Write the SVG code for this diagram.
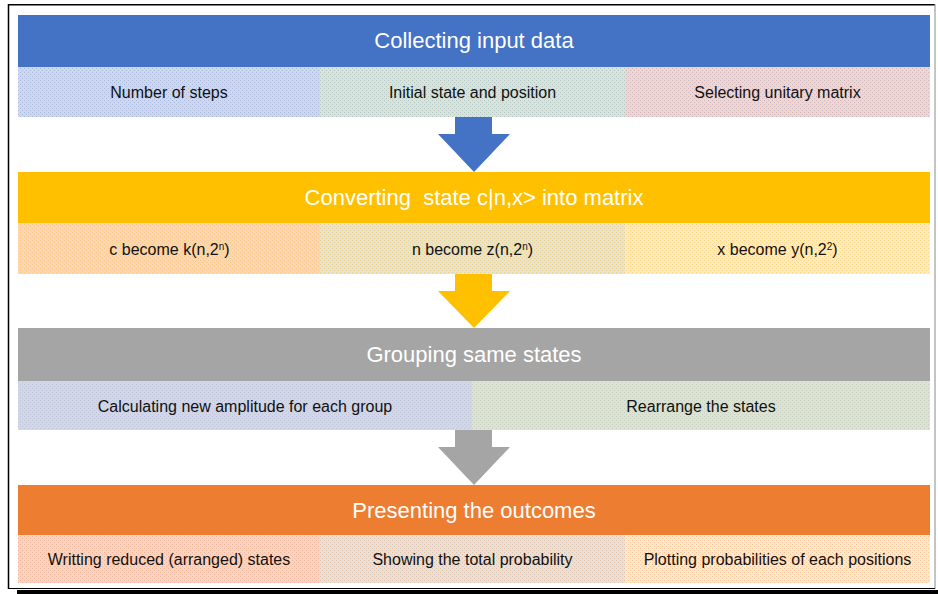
<svg xmlns="http://www.w3.org/2000/svg" width="938" height="594" viewBox="0 0 938 594">
  <defs>
    <style>
      .head-text { font-family: "Liberation Sans", Arial, sans-serif; font-size: 22px; fill: #ffffff; text-anchor: middle; }
      .cell-text { font-family: "Liberation Sans", Arial, sans-serif; font-size: 16px; fill: #111111; text-anchor: middle; }
      .sup { font-size: 10px; }
      .blue { fill: #4472C4; }
      .gold { fill: #FFC000; }
      .grey { fill: #A5A5A5; }
      .orange { fill: #ED7D31; }
      .c-blue { fill: #D0D6EC; }
      .c-green { fill: #DAE4D0; }
      .c-pink { fill: #F8D4C8; }
      .c-grey { fill: #E2E2E0; }
      .c-peach { fill: #FFE8CC; }
    </style>
    <!-- dotted-grid overlays tinted with each stage's colour -->
    <pattern id="dotBlue" patternUnits="userSpaceOnUse" width="4" height="4">
      <rect x="0" y="0" width="1" height="1" fill="#4472C4" opacity="0.28"/>
      <rect x="2" y="2" width="1" height="1" fill="#4472C4" opacity="0.28"/>
    </pattern>
    <pattern id="dotGold" patternUnits="userSpaceOnUse" width="4" height="4">
      <rect x="0" y="0" width="1" height="1" fill="#FFC000" opacity="0.4"/>
      <rect x="2" y="2" width="1" height="1" fill="#FFC000" opacity="0.4"/>
    </pattern>
    <pattern id="dotGrey" patternUnits="userSpaceOnUse" width="4" height="4">
      <rect x="0" y="0" width="1" height="1" fill="#A5A5A5" opacity="0.35"/>
      <rect x="2" y="2" width="1" height="1" fill="#A5A5A5" opacity="0.35"/>
    </pattern>
    <pattern id="dotOrange" patternUnits="userSpaceOnUse" width="4" height="4">
      <rect x="0" y="0" width="1" height="1" fill="#ED7D31" opacity="0.35"/>
      <rect x="2" y="2" width="1" height="1" fill="#ED7D31" opacity="0.35"/>
    </pattern>
  </defs>

  <!-- page background and frame -->
  <rect x="0" y="0" width="938" height="594" fill="#ffffff"/>
  <rect x="17" y="590" width="921" height="4" fill="#000000"/>
  <line x1="8" y1="4.8" x2="935" y2="4.8" stroke="#000000" stroke-width="1.5"/>
  <line x1="8.5" y1="4" x2="8.5" y2="589" stroke="#000000" stroke-width="1.5"/>
  <line x1="935" y1="4" x2="935" y2="589" stroke="#8a8a8a" stroke-width="1"/>
  <line x1="8" y1="588.5" x2="935" y2="588.5" stroke="#000000" stroke-width="1"/>

  <!-- stage 1 -->
  <g id="collecting-input-data">
    <rect class="blue" x="18" y="15" width="912" height="52"/>
    <text class="head-text" x="474" y="48">Collecting input data</text>
  </g>
  <g id="number-of-steps">
    <rect class="c-blue" x="18" y="67" width="302" height="50"/>
    <rect fill="url(#dotBlue)" x="18" y="67" width="302" height="50"/>
    <text class="cell-text" x="169" y="98">Number of steps</text>
  </g>
  <g id="initial-state-position">
    <rect class="c-green" x="320" y="67" width="305" height="50"/>
    <rect fill="url(#dotBlue)" x="320" y="67" width="305" height="50"/>
    <text class="cell-text" x="472.5" y="98">Initial state and position</text>
  </g>
  <g id="selecting-unitary-matrix">
    <rect class="c-pink" x="625" y="67" width="305" height="50"/>
    <rect fill="url(#dotBlue)" x="625" y="67" width="305" height="50"/>
    <text class="cell-text" x="777.5" y="98">Selecting unitary matrix</text>
  </g>

  <!-- stage 2 -->
  <g id="converting-state">
    <rect class="gold" x="18" y="172" width="912" height="51"/>
    <text class="head-text" x="474" y="205" xml:space="preserve">Converting  state c|n,x&gt; into matrix</text>
  </g>
  <g id="c-become-k">
    <rect class="c-pink" x="18" y="223" width="302" height="51"/>
    <rect fill="url(#dotGold)" x="18" y="223" width="302" height="51"/>
    <text class="cell-text" x="169.5" y="255">c become k(n,2<tspan class="sup" baseline-shift="super">n</tspan>)</text>
  </g>
  <g id="n-become-z">
    <rect class="c-grey" x="320" y="223" width="305" height="51"/>
    <rect fill="url(#dotGold)" x="320" y="223" width="305" height="51"/>
    <text class="cell-text" x="472.5" y="255">n become z(n,2<tspan class="sup" baseline-shift="super">n</tspan>)</text>
  </g>
  <g id="x-become-y">
    <rect class="c-peach" x="625" y="223" width="305" height="51"/>
    <rect fill="url(#dotGold)" x="625" y="223" width="305" height="51"/>
    <text class="cell-text" x="777.5" y="255">x become y(n,2<tspan class="sup" baseline-shift="super">2</tspan>)</text>
  </g>

  <!-- stage 3 -->
  <g id="grouping-same-states">
    <rect class="grey" x="18" y="328" width="912" height="53"/>
    <text class="head-text" x="474" y="362">Grouping same states</text>
  </g>
  <g id="calculating-amplitude">
    <rect class="c-blue" x="18" y="381" width="454" height="49"/>
    <rect fill="url(#dotGrey)" x="18" y="381" width="454" height="49"/>
    <text class="cell-text" x="245" y="412">Calculating new amplitude for each group</text>
  </g>
  <g id="rearrange-states">
    <rect class="c-green" x="472" y="381" width="458" height="49"/>
    <rect fill="url(#dotGrey)" x="472" y="381" width="458" height="49"/>
    <text class="cell-text" x="701" y="412">Rearrange the states</text>
  </g>

  <!-- stage 4 -->
  <g id="presenting-outcomes">
    <rect class="orange" x="18" y="485" width="912" height="50"/>
    <text class="head-text" x="474" y="518">Presenting the outcomes</text>
  </g>
  <g id="writing-reduced-states">
    <rect class="c-pink" x="18" y="535" width="302" height="48"/>
    <rect fill="url(#dotOrange)" x="18" y="535" width="302" height="48"/>
    <text class="cell-text" x="169" y="565">Writting reduced (arranged) states</text>
  </g>
  <g id="showing-total-probability">
    <rect class="c-grey" x="320" y="535" width="305" height="48"/>
    <rect fill="url(#dotOrange)" x="320" y="535" width="305" height="48"/>
    <text class="cell-text" x="472.5" y="565">Showing the total probability</text>
  </g>
  <g id="plotting-probabilities">
    <rect class="c-peach" x="625" y="535" width="305" height="48"/>
    <rect fill="url(#dotOrange)" x="625" y="535" width="305" height="48"/>
    <text class="cell-text" x="777.5" y="565">Plotting probabilities of each positions</text>
  </g>

  <!-- block arrows between stages -->
  <g id="connectors">
    <polygon class="blue" points="455,117 492,117 492,134 510,134 474,172 438,134 455,134"/>
    <polygon class="gold" points="455,274 492,274 492,291 510,291 474,328 438,291 455,291"/>
    <polygon class="grey" points="455,430 492,430 492,447 510,447 474,485 438,447 455,447"/>
  </g>
</svg>
